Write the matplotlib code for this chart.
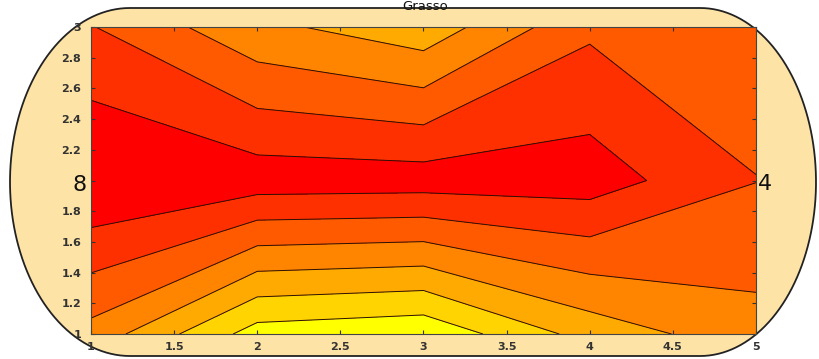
import numpy as np
import matplotlib
matplotlib.use('Agg')
from matplotlib import pyplot as plt
from matplotlib.path import Path
from matplotlib.patches import PathPatch

# grid values (rows: y = 1, 2, 3; columns: x = 1..5)
x_vals = [1, 2, 3, 4, 5]
y_vals = [1, 2, 3]
row_y1 = [3.65, 0.55, 0.22, 2.40, 3.62]
row_y2 = [7.04, 6.55, 6.50, 6.51, 5.02]
row_y3 = [5.05, 3.25, 2.36, 4.81, 4.50]
levels = [-1, 1, 2, 3, 4, 5, 6, 8]
line_levels = [1, 2, 3, 4, 5, 6]
x_ticks = [1, 1.5, 2, 2.5, 3, 3.5, 4, 4.5, 5]
x_ticklabels = ['1', '1.5', '2', '2.5', '3', '3.5', '4', '4.5', '5']
y_ticks = [1, 1.2, 1.4, 1.6, 1.8, 2, 2.2, 2.4, 2.6, 2.8, 3]
y_ticklabels = ['1', '1.2', '1.4', '1.6', '1.8', '', '2.2', '2.4', '2.6', '2.8', '3']
title = 'Grasso'
left_label = '8'
right_label = '4'

# autumn colours, yellow (low) -> red (high)
band_colors = ['#ffff00', '#ffd400', '#ffaa00', '#ff8400', '#ff5a00', '#ff3000', '#ff0000']

W, H = 820, 359
fig = plt.figure(figsize=(W / 100, H / 100), dpi=100)
fig.patch.set_facecolor('white')

# background axes in pixel coordinates for the rounded frame
bg = fig.add_axes([0, 0, 1, 1])
bg.set_xlim(0, W)
bg.set_ylim(H, 0)
bg.axis('off')

cy, ry = 182, 174
t1 = np.linspace(np.pi / 2, 3 * np.pi / 2, 80)
t2 = np.linspace(-np.pi / 2, np.pi / 2, 80)
left = np.column_stack([130 + 120 * np.cos(t1), cy - ry * np.sin(t1)])
right = np.column_stack([700 + 116 * np.cos(t2), cy - ry * np.sin(t2)])
pts = np.vstack([left, right, left[:1]])
codes = [Path.MOVETO] + [Path.LINETO] * (len(pts) - 2) + [Path.CLOSEPOLY]
bg.add_patch(PathPatch(Path(pts, codes), facecolor='#fde3a6', edgecolor='#222222', lw=1.3))

bg.text(425, 0.5, title, ha='center', va='top', fontsize=9.5, color='#111111')
bg.text(80, 185, left_label, ha='center', va='center', fontsize=16, color='#111111')
bg.text(765, 184, right_label, ha='center', va='center', fontsize=16, color='#111111')

# main contour axes
ax = fig.add_axes([91 / W, (H - 334) / H, (756 - 91) / W, (334 - 27) / H])
X, Y = np.meshgrid(x_vals, y_vals)
Z = np.array([row_y1, row_y2, row_y3])
ax.contourf(X, Y, Z, levels=levels, colors=band_colors)
ax.contour(X, Y, Z, levels=line_levels, colors='#2a1000', linewidths=0.7)

ax.set_xlim(1, 5)
ax.set_ylim(1, 3)
ax.set_xticks(x_ticks)
ax.set_xticklabels(x_ticklabels)
ax.set_yticks(y_ticks)
ax.set_yticklabels(y_ticklabels)
ax.tick_params(direction='in', length=3, width=0.8, color='#333333',
               top=True, right=True, labelsize=8, labelcolor='#333333')
ax.tick_params(axis='x', pad=6)
ax.tick_params(axis='y', pad=7)
for lab in ax.get_xticklabels() + ax.get_yticklabels():
    lab.set_fontweight('bold')
for s in ax.spines.values():
    s.set_color('#444444')
    s.set_linewidth(0.8)

fig.savefig('out.png', dpi=100)
